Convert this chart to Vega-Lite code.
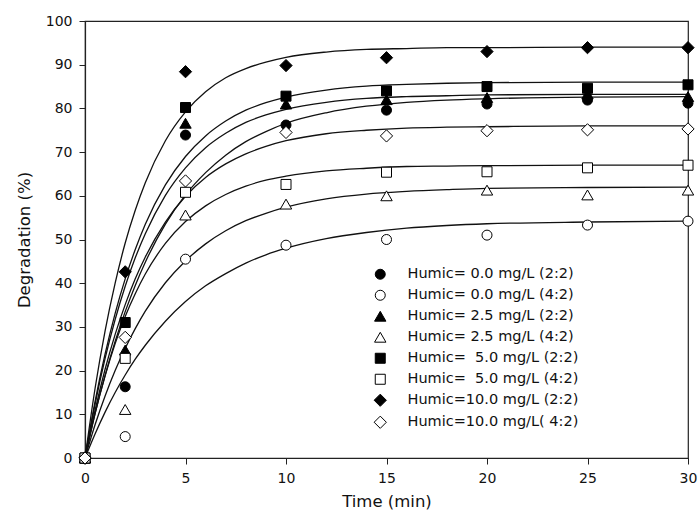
{
  "$schema": "https://vega.github.io/schema/vega-lite/v6.json",
  "width": 603,
  "height": 437,
  "autosize": "none",
  "padding": {"left": 85, "top": 21, "right": 12, "bottom": 55},
  "background": "white",
  "config": {
    "font": "DejaVu Sans",
    "view": {"stroke": "#222", "strokeWidth": 1.2},
    "axis": {
      "grid": false,
      "domainColor": "#222",
      "domainWidth": 1.2,
      "tickColor": "#222",
      "tickSize": 6,
      "labelFont": "DejaVu Sans",
      "labelFontSize": 14,
      "labelColor": "#111",
      "titleFont": "DejaVu Sans",
      "titleFontSize": 16.5,
      "titleFontWeight": "normal",
      "titleColor": "#111",
      "labelFlush": false,
      "labelOverlap": false
    },
    "legend": {
      "title": null, "orient": "none", "legendX": 288, "legendY": 246, "padding": 0,
      "labelFontSize": 14.5, "labelFont": "DejaVu Sans", "labelColor": "#111", "labelLimit": 300,
      "symbolStrokeColor": "black", "symbolStrokeWidth": 1, "symbolOpacity": 1,
      "labelOffset": 20, "rowPadding": 5
    }
  },
  "datasets": {
    "points": [
      {"series": "Humic= 0.0 mg/L (2:2)", "t": 0, "y": 0},
      {"series": "Humic= 0.0 mg/L (2:2)", "t": 2, "y": 16.3},
      {"series": "Humic= 0.0 mg/L (2:2)", "t": 5, "y": 73.9},
      {"series": "Humic= 0.0 mg/L (2:2)", "t": 10, "y": 76.2},
      {"series": "Humic= 0.0 mg/L (2:2)", "t": 15, "y": 79.6},
      {"series": "Humic= 0.0 mg/L (2:2)", "t": 20, "y": 81.0},
      {"series": "Humic= 0.0 mg/L (2:2)", "t": 25, "y": 81.9},
      {"series": "Humic= 0.0 mg/L (2:2)", "t": 30, "y": 81.2},
      {"series": "Humic= 0.0 mg/L (4:2)", "t": 0, "y": 0},
      {"series": "Humic= 0.0 mg/L (4:2)", "t": 2, "y": 4.9},
      {"series": "Humic= 0.0 mg/L (4:2)", "t": 5, "y": 45.5},
      {"series": "Humic= 0.0 mg/L (4:2)", "t": 10, "y": 48.7},
      {"series": "Humic= 0.0 mg/L (4:2)", "t": 15, "y": 50.0},
      {"series": "Humic= 0.0 mg/L (4:2)", "t": 20, "y": 51.0},
      {"series": "Humic= 0.0 mg/L (4:2)", "t": 25, "y": 53.3},
      {"series": "Humic= 0.0 mg/L (4:2)", "t": 30, "y": 54.2},
      {"series": "Humic= 2.5 mg/L (2:2)", "t": 0, "y": 0},
      {"series": "Humic= 2.5 mg/L (2:2)", "t": 2, "y": 24.7},
      {"series": "Humic= 2.5 mg/L (2:2)", "t": 5, "y": 76.6},
      {"series": "Humic= 2.5 mg/L (2:2)", "t": 10, "y": 81.0},
      {"series": "Humic= 2.5 mg/L (2:2)", "t": 15, "y": 82.0},
      {"series": "Humic= 2.5 mg/L (2:2)", "t": 20, "y": 82.5},
      {"series": "Humic= 2.5 mg/L (2:2)", "t": 25, "y": 83.3},
      {"series": "Humic= 2.5 mg/L (2:2)", "t": 30, "y": 82.7},
      {"series": "Humic= 2.5 mg/L (4:2)", "t": 0, "y": 0},
      {"series": "Humic= 2.5 mg/L (4:2)", "t": 2, "y": 11.1},
      {"series": "Humic= 2.5 mg/L (4:2)", "t": 5, "y": 55.6},
      {"series": "Humic= 2.5 mg/L (4:2)", "t": 10, "y": 58.1},
      {"series": "Humic= 2.5 mg/L (4:2)", "t": 15, "y": 60.0},
      {"series": "Humic= 2.5 mg/L (4:2)", "t": 20, "y": 61.3},
      {"series": "Humic= 2.5 mg/L (4:2)", "t": 25, "y": 60.2},
      {"series": "Humic= 2.5 mg/L (4:2)", "t": 30, "y": 61.3},
      {"series": "Humic=\u00a0 5.0 mg/L (2:2)", "t": 0, "y": 0},
      {"series": "Humic=\u00a0 5.0 mg/L (2:2)", "t": 2, "y": 31.0},
      {"series": "Humic=\u00a0 5.0 mg/L (2:2)", "t": 5, "y": 80.2},
      {"series": "Humic=\u00a0 5.0 mg/L (2:2)", "t": 10, "y": 82.8},
      {"series": "Humic=\u00a0 5.0 mg/L (2:2)", "t": 15, "y": 84.0},
      {"series": "Humic=\u00a0 5.0 mg/L (2:2)", "t": 20, "y": 85.0},
      {"series": "Humic=\u00a0 5.0 mg/L (2:2)", "t": 25, "y": 84.6},
      {"series": "Humic=\u00a0 5.0 mg/L (2:2)", "t": 30, "y": 85.4},
      {"series": "Humic=\u00a0 5.0 mg/L (4:2)", "t": 0, "y": 0},
      {"series": "Humic=\u00a0 5.0 mg/L (4:2)", "t": 2, "y": 22.8},
      {"series": "Humic=\u00a0 5.0 mg/L (4:2)", "t": 5, "y": 60.8},
      {"series": "Humic=\u00a0 5.0 mg/L (4:2)", "t": 10, "y": 62.6},
      {"series": "Humic=\u00a0 5.0 mg/L (4:2)", "t": 15, "y": 65.4},
      {"series": "Humic=\u00a0 5.0 mg/L (4:2)", "t": 20, "y": 65.5},
      {"series": "Humic=\u00a0 5.0 mg/L (4:2)", "t": 25, "y": 66.4},
      {"series": "Humic=\u00a0 5.0 mg/L (4:2)", "t": 30, "y": 67.0},
      {"series": "Humic=10.0 mg/L (2:2)", "t": 0, "y": 0},
      {"series": "Humic=10.0 mg/L (2:2)", "t": 2, "y": 42.6},
      {"series": "Humic=10.0 mg/L (2:2)", "t": 5, "y": 88.4},
      {"series": "Humic=10.0 mg/L (2:2)", "t": 10, "y": 89.8},
      {"series": "Humic=10.0 mg/L (2:2)", "t": 15, "y": 91.6},
      {"series": "Humic=10.0 mg/L (2:2)", "t": 20, "y": 93.0},
      {"series": "Humic=10.0 mg/L (2:2)", "t": 25, "y": 93.9},
      {"series": "Humic=10.0 mg/L (2:2)", "t": 30, "y": 93.9},
      {"series": "Humic=10.0 mg/L( 4:2)", "t": 0, "y": 0},
      {"series": "Humic=10.0 mg/L( 4:2)", "t": 2, "y": 27.6},
      {"series": "Humic=10.0 mg/L( 4:2)", "t": 5, "y": 63.4},
      {"series": "Humic=10.0 mg/L( 4:2)", "t": 10, "y": 74.5},
      {"series": "Humic=10.0 mg/L( 4:2)", "t": 15, "y": 73.7},
      {"series": "Humic=10.0 mg/L( 4:2)", "t": 20, "y": 74.9},
      {"series": "Humic=10.0 mg/L( 4:2)", "t": 25, "y": 75.1},
      {"series": "Humic=10.0 mg/L( 4:2)", "t": 30, "y": 75.3}
    ],
    "curves": [
      {"c": "FD", "t": 0, "y": 0}, {"c": "FD", "t": 0.5, "y": 15.9}, {"c": "FD", "t": 1, "y": 29.1}, {"c": "FD", "t": 1.5, "y": 40.0}, {"c": "FD", "t": 2, "y": 49.2}, {"c": "FD", "t": 2.5, "y": 56.7}, {"c": "FD", "t": 3, "y": 63.0}, {"c": "FD", "t": 4, "y": 72.6}, {"c": "FD", "t": 5, "y": 79.2}, {"c": "FD", "t": 6, "y": 83.8}, {"c": "FD", "t": 7, "y": 87.0}, {"c": "FD", "t": 8, "y": 89.1}, {"c": "FD", "t": 9, "y": 90.6}, {"c": "FD", "t": 10, "y": 91.7}, {"c": "FD", "t": 12, "y": 92.9}, {"c": "FD", "t": 14, "y": 93.5}, {"c": "FD", "t": 16, "y": 93.7}, {"c": "FD", "t": 18, "y": 93.9}, {"c": "FD", "t": 20, "y": 93.9}, {"c": "FD", "t": 25, "y": 94.0}, {"c": "FD", "t": 30, "y": 94.0},
      {"c": "FS", "t": 0, "y": 0}, {"c": "FS", "t": 0.5, "y": 12.9}, {"c": "FS", "t": 1, "y": 23.8}, {"c": "FS", "t": 1.5, "y": 33.1}, {"c": "FS", "t": 2, "y": 41.0}, {"c": "FS", "t": 2.5, "y": 47.7}, {"c": "FS", "t": 3, "y": 53.5}, {"c": "FS", "t": 4, "y": 62.5}, {"c": "FS", "t": 5, "y": 69.0}, {"c": "FS", "t": 6, "y": 73.7}, {"c": "FS", "t": 7, "y": 77.1}, {"c": "FS", "t": 8, "y": 79.6}, {"c": "FS", "t": 9, "y": 81.3}, {"c": "FS", "t": 10, "y": 82.6}, {"c": "FS", "t": 12, "y": 84.2}, {"c": "FS", "t": 14, "y": 85.1}, {"c": "FS", "t": 16, "y": 85.5}, {"c": "FS", "t": 18, "y": 85.75}, {"c": "FS", "t": 20, "y": 85.9}, {"c": "FS", "t": 25, "y": 86.0}, {"c": "FS", "t": 30, "y": 86.0},
      {"c": "FT", "t": 0, "y": 0}, {"c": "FT", "t": 0.5, "y": 12.3}, {"c": "FT", "t": 1, "y": 22.8}, {"c": "FT", "t": 1.5, "y": 31.7}, {"c": "FT", "t": 2, "y": 39.3}, {"c": "FT", "t": 2.5, "y": 45.8}, {"c": "FT", "t": 3, "y": 51.3}, {"c": "FT", "t": 4, "y": 60.1}, {"c": "FT", "t": 5, "y": 66.4}, {"c": "FT", "t": 6, "y": 71.0}, {"c": "FT", "t": 7, "y": 74.3}, {"c": "FT", "t": 8, "y": 76.8}, {"c": "FT", "t": 9, "y": 78.5}, {"c": "FT", "t": 10, "y": 79.8}, {"c": "FT", "t": 12, "y": 81.4}, {"c": "FT", "t": 14, "y": 82.3}, {"c": "FT", "t": 16, "y": 82.7}, {"c": "FT", "t": 18, "y": 82.9}, {"c": "FT", "t": 20, "y": 83.1}, {"c": "FT", "t": 25, "y": 83.2}, {"c": "FT", "t": 30, "y": 83.2},
      {"c": "FC", "t": 0, "y": 0}, {"c": "FC", "t": 0.5, "y": 10.1}, {"c": "FC", "t": 1, "y": 18.9}, {"c": "FC", "t": 1.5, "y": 26.7}, {"c": "FC", "t": 2, "y": 33.5}, {"c": "FC", "t": 2.5, "y": 39.5}, {"c": "FC", "t": 3, "y": 44.8}, {"c": "FC", "t": 4, "y": 53.5}, {"c": "FC", "t": 5, "y": 60.2}, {"c": "FC", "t": 6, "y": 65.3}, {"c": "FC", "t": 7, "y": 69.3}, {"c": "FC", "t": 8, "y": 72.4}, {"c": "FC", "t": 9, "y": 74.7}, {"c": "FC", "t": 10, "y": 76.6}, {"c": "FC", "t": 12, "y": 79.0}, {"c": "FC", "t": 14, "y": 80.5}, {"c": "FC", "t": 16, "y": 81.4}, {"c": "FC", "t": 18, "y": 81.9}, {"c": "FC", "t": 20, "y": 82.2}, {"c": "FC", "t": 25, "y": 82.6}, {"c": "FC", "t": 30, "y": 82.7},
      {"c": "OD", "t": 0, "y": 0}, {"c": "OD", "t": 0.5, "y": 10.9}, {"c": "OD", "t": 1, "y": 20.3}, {"c": "OD", "t": 1.5, "y": 28.3}, {"c": "OD", "t": 2, "y": 35.1}, {"c": "OD", "t": 2.5, "y": 41.0}, {"c": "OD", "t": 3, "y": 46.0}, {"c": "OD", "t": 4, "y": 54.0}, {"c": "OD", "t": 5, "y": 59.9}, {"c": "OD", "t": 6, "y": 64.2}, {"c": "OD", "t": 7, "y": 67.3}, {"c": "OD", "t": 8, "y": 69.6}, {"c": "OD", "t": 9, "y": 71.3}, {"c": "OD", "t": 10, "y": 72.6}, {"c": "OD", "t": 12, "y": 74.2}, {"c": "OD", "t": 14, "y": 75.0}, {"c": "OD", "t": 16, "y": 75.5}, {"c": "OD", "t": 18, "y": 75.7}, {"c": "OD", "t": 20, "y": 75.8}, {"c": "OD", "t": 25, "y": 76.0}, {"c": "OD", "t": 30, "y": 76.0},
      {"c": "OS", "t": 0, "y": 0}, {"c": "OS", "t": 0.5, "y": 10.2}, {"c": "OS", "t": 1, "y": 18.8}, {"c": "OS", "t": 1.5, "y": 26.2}, {"c": "OS", "t": 2, "y": 32.4}, {"c": "OS", "t": 2.5, "y": 37.6}, {"c": "OS", "t": 3, "y": 42.1}, {"c": "OS", "t": 4, "y": 49.1}, {"c": "OS", "t": 5, "y": 54.1}, {"c": "OS", "t": 6, "y": 57.7}, {"c": "OS", "t": 7, "y": 60.3}, {"c": "OS", "t": 8, "y": 62.2}, {"c": "OS", "t": 9, "y": 63.6}, {"c": "OS", "t": 10, "y": 64.5}, {"c": "OS", "t": 12, "y": 65.7}, {"c": "OS", "t": 14, "y": 66.3}, {"c": "OS", "t": 16, "y": 66.7}, {"c": "OS", "t": 18, "y": 66.8}, {"c": "OS", "t": 20, "y": 66.9}, {"c": "OS", "t": 25, "y": 67.0}, {"c": "OS", "t": 30, "y": 67.0},
      {"c": "OT", "t": 0, "y": 0}, {"c": "OT", "t": 0.5, "y": 7.6}, {"c": "OT", "t": 1, "y": 14.2}, {"c": "OT", "t": 1.5, "y": 20.0}, {"c": "OT", "t": 2, "y": 25.1}, {"c": "OT", "t": 2.5, "y": 29.6}, {"c": "OT", "t": 3, "y": 33.6}, {"c": "OT", "t": 4, "y": 40.1}, {"c": "OT", "t": 5, "y": 45.1}, {"c": "OT", "t": 6, "y": 49.0}, {"c": "OT", "t": 7, "y": 52.0}, {"c": "OT", "t": 8, "y": 54.3}, {"c": "OT", "t": 9, "y": 56.0}, {"c": "OT", "t": 10, "y": 57.4}, {"c": "OT", "t": 12, "y": 59.3}, {"c": "OT", "t": 14, "y": 60.4}, {"c": "OT", "t": 16, "y": 61.0}, {"c": "OT", "t": 18, "y": 61.4}, {"c": "OT", "t": 20, "y": 61.7}, {"c": "OT", "t": 25, "y": 61.9}, {"c": "OT", "t": 30, "y": 62.0},
      {"c": "OC", "t": 0, "y": 0}, {"c": "OC", "t": 0.5, "y": 5.5}, {"c": "OC", "t": 1, "y": 10.5}, {"c": "OC", "t": 1.5, "y": 15.0}, {"c": "OC", "t": 2, "y": 19.0}, {"c": "OC", "t": 2.5, "y": 22.6}, {"c": "OC", "t": 3, "y": 25.8}, {"c": "OC", "t": 4, "y": 31.3}, {"c": "OC", "t": 5, "y": 35.8}, {"c": "OC", "t": 6, "y": 39.4}, {"c": "OC", "t": 7, "y": 42.2}, {"c": "OC", "t": 8, "y": 44.6}, {"c": "OC", "t": 9, "y": 46.5}, {"c": "OC", "t": 10, "y": 48.0}, {"c": "OC", "t": 12, "y": 50.2}, {"c": "OC", "t": 14, "y": 51.6}, {"c": "OC", "t": 16, "y": 52.6}, {"c": "OC", "t": 18, "y": 53.2}, {"c": "OC", "t": 20, "y": 53.6}, {"c": "OC", "t": 25, "y": 54.0}, {"c": "OC", "t": 30, "y": 54.2}
    ]
  },
  "layer": [
    {
      "data": {"name": "curves"},
      "mark": {"type": "line", "color": "#111", "strokeWidth": 1.3, "interpolate": "monotone"},
      "encoding": {
        "x": {"field": "t", "type": "quantitative", "scale": {"domain": [0, 30], "nice": false},
              "axis": {"title": "Time (min)", "values": [0, 5, 10, 15, 20, 25, 30], "labelPadding": 7, "titlePadding": 8}},
        "y": {"field": "y", "type": "quantitative", "scale": {"domain": [0, 100], "nice": false},
              "axis": {"title": "Degradation (%)", "values": [0, 10, 20, 30, 40, 50, 60, 70, 80, 90, 100], "labelPadding": 7, "titlePadding": 13}},
        "detail": {"field": "c", "type": "nominal"}
      }
    },
    {
      "data": {"name": "points"},
      "mark": {"type": "point", "filled": true, "stroke": "black", "strokeWidth": 1, "opacity": 1},
      "encoding": {
        "x": {"field": "t", "type": "quantitative"},
        "y": {"field": "y", "type": "quantitative"},
        "shape": {
          "field": "series", "type": "ordinal",
          "scale": {
            "domain": ["Humic= 0.0 mg/L (2:2)", "Humic= 0.0 mg/L (4:2)", "Humic= 2.5 mg/L (2:2)", "Humic= 2.5 mg/L (4:2)", "Humic=\u00a0 5.0 mg/L (2:2)", "Humic=\u00a0 5.0 mg/L (4:2)", "Humic=10.0 mg/L (2:2)", "Humic=10.0 mg/L( 4:2)"],
            "range": ["circle", "circle", "triangle-up", "triangle-up", "square", "square", "diamond", "diamond"]
          },
          "legend": {"encode": {"symbols": {"update": {"stroke": {"value": "black"}, "strokeWidth": {"value": 1}}}}}
        },
        "fill": {
          "field": "series", "type": "ordinal",
          "scale": {
            "domain": ["Humic= 0.0 mg/L (2:2)", "Humic= 0.0 mg/L (4:2)", "Humic= 2.5 mg/L (2:2)", "Humic= 2.5 mg/L (4:2)", "Humic=\u00a0 5.0 mg/L (2:2)", "Humic=\u00a0 5.0 mg/L (4:2)", "Humic=10.0 mg/L (2:2)", "Humic=10.0 mg/L( 4:2)"],
            "range": ["black", "white", "black", "white", "black", "white", "black", "white"]
          },
          "legend": {"encode": {"symbols": {"update": {"stroke": {"value": "black"}, "strokeWidth": {"value": 1}}}}}
        },
        "size": {
          "field": "series", "type": "ordinal",
          "scale": {
            "type": "ordinal",
            "domain": ["Humic= 0.0 mg/L (2:2)", "Humic= 0.0 mg/L (4:2)", "Humic= 2.5 mg/L (2:2)", "Humic= 2.5 mg/L (4:2)", "Humic=\u00a0 5.0 mg/L (2:2)", "Humic=\u00a0 5.0 mg/L (4:2)", "Humic=10.0 mg/L (2:2)", "Humic=10.0 mg/L( 4:2)"],
            "range": [100, 100, 130, 130, 100, 100, 150, 150]
          },
          "legend": {"encode": {"symbols": {"update": {"stroke": {"value": "black"}, "strokeWidth": {"value": 1}}}}}
        }
      }
    }
  ]
}
